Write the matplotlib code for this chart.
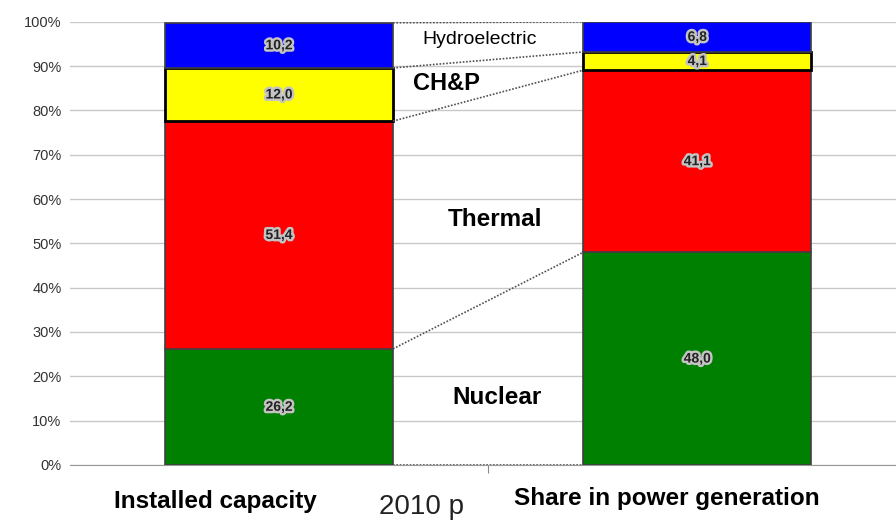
import numpy as np
import matplotlib
matplotlib.use("Agg")
import matplotlib.pyplot as plt
import matplotlib.patheffects as pe

# data (shares, %)
categories = ["Installed capacity", "Share in power generation"]
sources = ["Nuclear", "Thermal", "CH&P", "Hydroelectric"]
nuclear = [26.2, 48.0]
thermal = [51.4, 41.1]
chp = [12.0, 4.1]
hydro = [10.2, 6.8]
value_labels = {
    "Nuclear": ["26,2", "48,0"],
    "Thermal": ["51,4", "41,1"],
    "CH&P": ["12,0", "4,1"],
    "Hydroelectric": ["10,2", "6,8"],
}
colors = {"Nuclear": "#008000", "Thermal": "#FF0000", "CH&P": "#FFFF00", "Hydroelectric": "#0000FF"}
center_label = "2010 p"

plt.rcParams["font.family"] = ["Liberation Sans", "DejaVu Sans"]

fig = plt.figure(figsize=(8.96, 5.2), dpi=100)
ax = fig.add_axes([0.078, 0.106, 0.922, 0.852])

x = np.arange(len(categories))
width = 0.545
series = {"Nuclear": nuclear, "Thermal": thermal, "CH&P": chp, "Hydroelectric": hydro}

bottom = np.zeros(len(categories))
tops = [bottom.copy()]
for name in sources:
    vals = np.array(series[name])
    edge = "black" if name == "CH&P" else "#404040"
    lw = 2.0 if name == "CH&P" else 1.2
    ax.bar(x, vals, width, bottom=bottom, color=colors[name], edgecolor=edge,
           linewidth=lw, zorder=3)
    for i in range(len(categories)):
        ax.text(x[i], bottom[i] + vals[i] / 2, value_labels[name][i],
                ha="center", va="center", fontsize=10, fontweight="bold",
                color="#222222", zorder=5,
                path_effects=[pe.withStroke(linewidth=3.5, foreground="#c4c4c4")])
    bottom = bottom + vals
    tops.append(bottom.copy())

# dotted connectors between bars
for level in tops:
    ax.plot([x[0] + width / 2, x[1] - width / 2], [level[0], min(level[1], 100)],
            linestyle=(0, (1, 1)), color="#505050", linewidth=1.2, zorder=4)

# source labels between the bars
ax.text(0.48, 96.0, "Hydroelectric", ha="center", va="center", fontsize=14, color="black")
ax.text(0.40, 86.0, "CH&P", ha="center", va="center", fontsize=17, fontweight="bold")
ax.text(0.516, 55.3, "Thermal", ha="center", va="center", fontsize=17.5, fontweight="bold")
ax.text(0.52, 15.3, "Nuclear", ha="center", va="center", fontsize=17.5, fontweight="bold")

ax.set_xlim(-0.5, 1.475)
ax.set_ylim(0, 100)
ax.set_yticks(np.arange(0, 101, 10))
ax.set_yticklabels([f"{v}%" for v in range(0, 101, 10)], fontsize=10.5, color="#333333")
ax.yaxis.grid(True, color="#c8c8c8", linewidth=1.0, zorder=0)
ax.set_axisbelow(True)
ax.tick_params(axis="y", length=0, pad=6)
ax.set_xticks([0.5])
ax.set_xticklabels([""])
ax.tick_params(axis="x", length=6, color="#888888")
for s in ["top", "right", "left"]:
    ax.spines[s].set_visible(False)
ax.spines["bottom"].set_color("#999999")

cat_x = [-0.153, 0.927]
cat_y = [-8.2, -7.7]
for i, cat in enumerate(categories):
    ax.text(cat_x[i], cat_y[i], cat, ha="center", va="center", fontsize=17.5,
            fontweight="bold", clip_on=False)
ax.text(0.34, -9.4, center_label, ha="center", va="center", fontsize=20, color="#222222",
        clip_on=False)

fig.savefig("out.png", dpi=100)
